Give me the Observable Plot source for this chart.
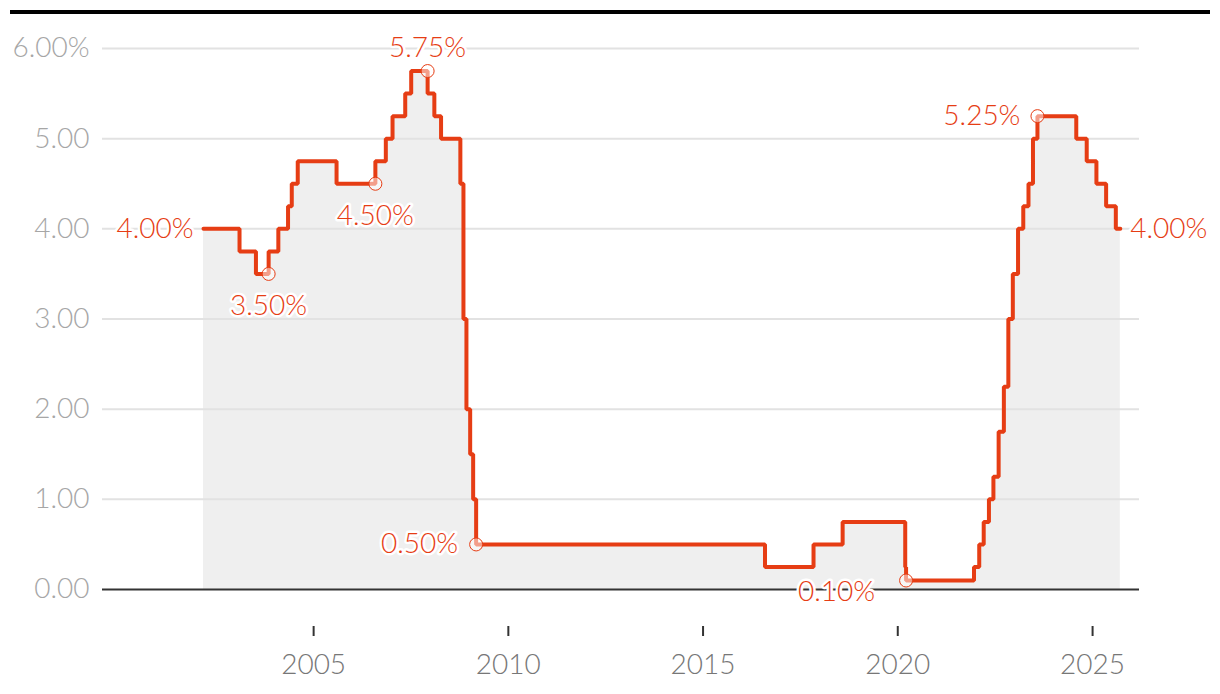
<!DOCTYPE html>
<html>
<head>
<meta charset="utf-8">
<script src="https://cdn.jsdelivr.net/npm/d3@7"></script>
<script src="https://cdn.jsdelivr.net/npm/@observablehq/plot@0.6"></script>
<style>
  html, body { margin: 0; padding: 0; background: #fff; }
  #wrap { position: relative; width: 1220px; height: 694px; }
  #bar { position: absolute; left: 10px; right: 10px; top: 10px; height: 4px; background: #000; }
</style>
</head>
<body>
<div id="wrap"><div id="bar"></div><div id="chart"></div></div>
<script>
// Bank rate change dates and levels (percent)
const changeDates = [
  "2002-03-05", "2003-02-06", "2003-07-10", "2003-11-06", "2004-02-05", "2004-05-06",
  "2004-06-10", "2004-08-05", "2005-08-04", "2006-08-03", "2006-11-09", "2007-01-11",
  "2007-05-10", "2007-07-05", "2007-12-06", "2008-02-07", "2008-04-10", "2008-10-08",
  "2008-11-06", "2008-12-04", "2009-01-08", "2009-02-05", "2009-03-05", "2016-08-04",
  "2017-11-02", "2018-08-02", "2020-03-11", "2020-03-19", "2021-12-16", "2022-02-03",
  "2022-03-17", "2022-05-05", "2022-06-16", "2022-08-04", "2022-09-22", "2022-11-03",
  "2022-12-15", "2023-02-02", "2023-03-23", "2023-05-11", "2023-06-22", "2023-08-03",
  "2024-08-01", "2024-11-07", "2025-02-06", "2025-05-08", "2025-08-07", "2025-09-18"
];
const rates = [
  4.00, 3.75, 3.50, 3.75, 4.00, 4.25,
  4.50, 4.75, 4.50, 4.75, 5.00, 5.25,
  5.50, 5.75, 5.50, 5.25, 5.00, 4.50,
  3.00, 2.00, 1.50, 1.00, 0.50, 0.25,
  0.50, 0.75, 0.25, 0.10, 0.25, 0.50,
  0.75, 1.00, 1.25, 1.75, 2.25, 3.00,
  3.50, 4.00, 4.25, 4.50, 5.00, 5.25,
  5.00, 4.75, 4.50, 4.25, 4.00, 4.00
];

// Annotated points
const noteDates  = ["2002-03-05", "2003-11-06", "2006-08-03", "2007-12-06", "2009-03-05", "2020-03-19", "2023-08-03", "2025-09-18"];
const noteValues = [4.00, 3.50, 4.50, 5.75, 0.50, 0.10, 5.25, 4.00];
const noteLabels = ["4.00%", "3.50%", "4.50%", "5.75%", "0.50%", "0.10%", "5.25%", "4.00%"];
const noteCircle = [false, true, true, true, true, true, true, false];

// Axis ticks
const yTicks = [0, 1, 2, 3, 4, 5, 6];
const yTickLabels = ["0.00", "1.00", "2.00", "3.00", "4.00", "5.00", "6.00%"];
const xTickYears = [2005, 2010, 2015, 2020, 2025];

const parse = d3.utcParse("%Y-%m-%d");
const series = changeDates.map((d, i) => ({date: parse(d), rate: rates[i]}));
const notes = noteDates.map((d, i) => ({date: parse(d), value: noteValues[i], label: noteLabels[i], circle: noteCircle[i]}));
const xTicks = xTickYears.map(y => new Date(Date.UTC(y, 0, 1)));

const RED = "#e63d14";
const FONT = "Lato, 'Open Sans', sans-serif";
const FS = 28;
const FW = 300;

// per-label placement (styles, not data)
const place = [
  {dx: -10, dy: 0, textAnchor: "end"},
  {dx: 0, dy: 32, textAnchor: "middle"},
  {dx: 0, dy: 32, textAnchor: "middle"},
  {dx: 0, dy: -23, textAnchor: "middle"},
  {dx: -18, dy: 0, textAnchor: "end"},
  {dx: -31, dy: 12, textAnchor: "end"},
  {dx: -17, dy: 0, textAnchor: "end"},
  {dx: 10, dy: 0, textAnchor: "start"}
];

const labelMarks = notes.map((n, i) => Plot.text([n], {
  x: "date", y: "value", text: "label",
  fill: RED, stroke: "white", strokeWidth: 5,
  fontSize: FS, fontWeight: FW, fontFamily: FONT,
  ...place[i]
}));

const chart = Plot.plot({
  width: 1220,
  height: 694,
  marginTop: 48,
  marginBottom: 68,
  marginLeft: 102,
  marginRight: 81,
  style: {fontFamily: FONT, background: "transparent", overflow: "visible"},
  x: {type: "utc", domain: [parse("1999-08-01"), parse("2026-03-17")]},
  y: {domain: [-0.41, 6]},
  marks: [
    Plot.areaY(series, {x: "date", y1: 0, y2: "rate", curve: "step-after", fill: "#efefef"}),
    Plot.ruleY(yTicks.filter(d => d !== 0), {stroke: "#e2e2e2", strokeWidth: 2}),
    Plot.ruleY([0], {stroke: "#333", strokeWidth: 2}),
    Plot.axisY({
      ticks: yTicks, tickSize: 0, tickPadding: 13,
      tickFormat: d => yTickLabels[yTicks.indexOf(d)],
      fill: "#a6a6a6", fontSize: FS, fontWeight: FW, fontFamily: FONT, label: null
    }),
    Plot.axisX({
      ticks: xTicks, tickSize: 10, tickPadding: 18,
      tickFormat: d3.utcFormat("%Y"),
      stroke: "#333", strokeWidth: 2, fill: "#777", fontSize: FS, fontWeight: FW, fontFamily: FONT, label: null
    }),
    Plot.line(series, {x: "date", y: "rate", curve: "step-after", stroke: RED, strokeWidth: 4, strokeLinejoin: "miter"}),
    Plot.dot(notes.filter(n => n.circle), {x: "date", y: "value", r: 6.5, stroke: RED, strokeWidth: 1, fill: "white", fillOpacity: 0.5}),
    ...labelMarks
  ]
});

document.getElementById("chart").appendChild(chart);
</script>
</body>
</html>
